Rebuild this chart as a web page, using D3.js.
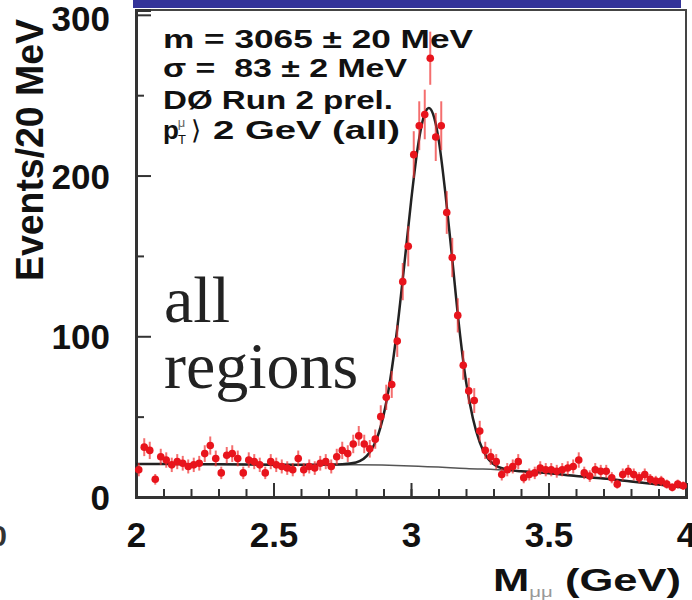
<!DOCTYPE html>
<html>
<head>
<meta charset="utf-8">
<script src="https://cdn.jsdelivr.net/npm/d3@7"></script>
<style>
  body { margin: 0; background: #fff; }
  svg { display: block; }
  text { font-family: "Liberation Sans", Arial, Helvetica, sans-serif; }
</style>
</head>
<body>
<svg width="692" height="600"></svg>
<script>
// histogram: 20 MeV bins from 2.0 to 4.0 GeV
var binStart = 2.0,
    binWidth = 0.02;

var counts = [
  17, 31, 29, 11, 25, 23, 20, 22, 21, 19,
  20, 21, 27, 32, 24, 15, 26, 27, 24, 15,
  23, 22, 20, 15, 22, 20, 19, 18, 17, 24,
  17, 19, 18, 21, 22, 19, 25, 29, 27, 33,
  38, 33, 30, 36, 50, 62, 70, 97, 134, 156,
  213, 231, 238, 273, 224, 231, 177, 149, 113, 82,
  66, 60, 41, 29, 25, 22, 14, 17, 19, 22,
  12, 14, 15, 18, 17, 17, 16, 17, 18, 19,
  23, 15, 13, 17, 16, 16, 12, 8, 14, 16,
  14, 12, 14, 11, 10, 10, 8, 6, 8, 7
];

// fit curve (signal + background)
var fitMass = [2.00, 2.20, 2.40, 2.60, 2.70, 2.75, 2.80, 2.85, 2.875, 2.90,
               2.925, 2.95, 2.975, 3.00, 3.025, 3.05, 3.065, 3.08, 3.10, 3.125,
               3.15, 3.175, 3.20, 3.225, 3.25, 3.275, 3.30, 3.35, 3.40, 3.50,
               3.60, 3.70, 3.80, 3.90, 4.00];
var fitValue = [20.5, 20.4, 20.2, 20.1, 20.2, 20.4, 21.5, 27.8, 36, 50.8,
                73.6, 105, 143.5, 183.5, 218, 238.5, 242, 238.4, 223, 189,
                148, 106, 72, 49, 34, 25, 20.5, 17, 16, 14.8,
                13, 11.5, 9.6, 7.7, 5.8];

// background only
var bgMass = [2.0, 2.4, 2.8, 3.0, 3.2, 3.4, 3.6, 3.8, 4.0];
var bgValue = [20.5, 20.2, 20.0, 19.3, 17.8, 16.2, 13.2, 9.8, 5.8];

var xMajor = [2, 2.5, 3, 3.5, 4];
var yMajor = [0, 100, 200, 300];
var yMinor = [50, 150, 250];

var svg = d3.select('svg');

var x = d3.scaleLinear().domain([2, 4]).range([136, 686]);
var y = d3.scaleLinear().domain([0, 303]).range([497, 10]);

// blue bar at the top
svg.append('rect')
  .attr('x', 133).attr('y', 0)
  .attr('width', 548).attr('height', 8)
  .attr('fill', '#333399');

// frame
svg.append('rect')
  .attr('x', x(2)).attr('y', y(303))
  .attr('width', x(4) - x(2)).attr('height', y(0) - y(303))
  .attr('fill', 'none')
  .attr('stroke', '#444')
  .attr('stroke-width', 2);

// x ticks
var xMinorAxis = d3.axisBottom(x)
  .tickValues(d3.range(2.1, 4, 0.1))
  .tickSize(-8)
  .tickFormat('');
svg.append('g')
  .attr('transform', 'translate(0,' + y(0) + ')')
  .call(xMinorAxis)
  .call(function(g) { g.select('.domain').remove(); })
  .selectAll('line').attr('stroke', '#333').attr('stroke-width', 2);

var xAxis = d3.axisBottom(x)
  .tickValues(xMajor)
  .tickSize(-14)
  .tickPadding(25)
  .tickFormat(function(d) { return d; });
var gx = svg.append('g')
  .attr('transform', 'translate(0,' + y(0) + ')')
  .call(xAxis);
gx.select('.domain').attr('stroke', '#333').attr('stroke-width', 3);
gx.selectAll('line').attr('stroke', '#333').attr('stroke-width', 2);
gx.selectAll('text')
  .attr('fill', '#111')
  .style('font-size', '35px')
  .style('font-weight', 'bold');

// y ticks
var yMinorAxis = d3.axisLeft(y).tickValues(yMinor).tickSize(-8).tickFormat('');
svg.append('g')
  .attr('transform', 'translate(' + x(2) + ',0)')
  .call(yMinorAxis)
  .call(function(g) { g.select('.domain').remove(); })
  .selectAll('line').attr('stroke', '#333').attr('stroke-width', 2);

var yAxis = d3.axisLeft(y).tickValues(yMajor).tickSize(-15).tickPadding(26);
var gy = svg.append('g')
  .attr('transform', 'translate(' + x(2) + ',0)')
  .call(yAxis);
gy.select('.domain').attr('stroke', '#333').attr('stroke-width', 3);
gy.selectAll('line').attr('stroke', '#333').attr('stroke-width', 2);
gy.selectAll('text')
  .attr('fill', '#111')
  .attr('dy', function(d) { return d === 300 ? '0.46em' : '0.36em'; })
  .style('font-size', '35px')
  .style('font-weight', 'bold');

// axis titles
svg.append('text')
  .attr('transform', 'translate(43,150) rotate(-90)')
  .attr('text-anchor', 'middle')
  .attr('textLength', 262)
  .attr('lengthAdjust', 'spacingAndGlyphs')
  .attr('fill', '#111')
  .style('font-size', '38px')
  .style('font-weight', 'bold')
  .text('Events/20 MeV');

var xt = svg.append('text')
  .attr('x', 493).attr('y', 591)
  .attr('textLength', 188)
  .attr('lengthAdjust', 'spacingAndGlyphs')
  .attr('fill', '#111')
  .style('font-size', '32px')
  .style('font-weight', 'bold');
xt.append('tspan').text('M');
xt.append('tspan')
  .attr('dy', 6)
  .attr('fill', '#999')
  .style('font-size', '15px')
  .style('font-weight', 'normal')
  .text('\u03bc\u03bc');
xt.append('tspan').attr('dy', -6).text('\u00a0(GeV)');

// cut-off glyph at the left edge
svg.append('text')
  .attr('x', 7).attr('y', 546)
  .attr('text-anchor', 'end')
  .attr('fill', '#333')
  .style('font-size', '30px')
  .style('font-weight', 'bold')
  .text('0');

// fit lines
var line = d3.line()
  .x(function(d) { return x(d[0]); })
  .y(function(d) { return y(d[1]); })
  .curve(d3.curveMonotoneX);

svg.append('path')
  .datum(d3.zip(bgMass, bgValue))
  .attr('d', line)
  .attr('fill', 'none')
  .attr('stroke', '#555')
  .attr('stroke-width', 1.5);

svg.append('path')
  .datum(d3.zip(fitMass, fitValue))
  .attr('d', line)
  .attr('fill', 'none')
  .attr('stroke', '#222')
  .attr('stroke-width', 2.5);

// data points with error bars
var pts = counts.map(function(c, i) {
  return { m: binStart + (i + 0.5) * binWidth, n: c };
});

svg.append('g')
  .selectAll('line')
  .data(pts)
  .enter().append('line')
    .attr('x1', function(d) { return x(d.m); })
    .attr('x2', function(d) { return x(d.m); })
    .attr('y1', function(d) { return y(d.n + Math.sqrt(d.n)); })
    .attr('y2', function(d) { return y(d.n - Math.sqrt(d.n)); })
    .attr('stroke', '#f03030')
    .attr('stroke-opacity', 0.7)
    .attr('stroke-width', 2);

svg.append('g')
  .selectAll('circle')
  .data(pts)
  .enter().append('circle')
    .attr('cx', function(d) { return x(d.m); })
    .attr('cy', function(d) { return y(d.n); })
    .attr('r', 3.8)
    .attr('fill', '#e8141c');

// fit result box
var info = svg.append('g')
  .attr('fill', '#111')
  .style('font-size', '26px')
  .style('font-weight', 'bold');

info.append('text')
  .attr('x', 163).attr('y', 48)
  .attr('textLength', 310).attr('lengthAdjust', 'spacingAndGlyphs')
  .text('m = 3065 \u00b1 20 MeV');
info.append('text')
  .attr('x', 163).attr('y', 77)
  .attr('textLength', 244).attr('lengthAdjust', 'spacingAndGlyphs')
  .text('\u03c3 =\u00a0\u00a083 \u00b1 2 MeV');
info.append('text')
  .attr('x', 163).attr('y', 109)
  .attr('textLength', 230).attr('lengthAdjust', 'spacingAndGlyphs')
  .text('D\u00d8 Run 2 prel.');

var l4 = info.append('text')
  .attr('x', 163).attr('y', 139);
l4.append('tspan').text('p');
l4.append('tspan').attr('dx', -1).attr('dy', 5).style('font-size', '13px').style('font-weight', 'normal').text('T');
l4.append('tspan').attr('dx', -8).attr('dy', -17).style('font-size', '13px').style('font-weight', 'normal').attr('fill', '#666').text('\u03bc');
l4.append('tspan').attr('dx', 6).attr('dy', 12).style('font-weight', 'normal').text('\u27e9');
l4.append('tspan')
  .attr('x', 213)
  .attr('textLength', 187).attr('lengthAdjust', 'spacingAndGlyphs')
  .text('2 GeV (all)');

// big label
var lab = svg.append('text')
  .attr('fill', '#222')
  .style('font-family', '"Liberation Serif", "Times New Roman", serif')
  .style('font-size', '66px');
lab.append('tspan').attr('x', 164).attr('y', 322).text('all');
lab.append('tspan').attr('x', 164).attr('y', 388).text('regions');
</script>
</body>
</html>
